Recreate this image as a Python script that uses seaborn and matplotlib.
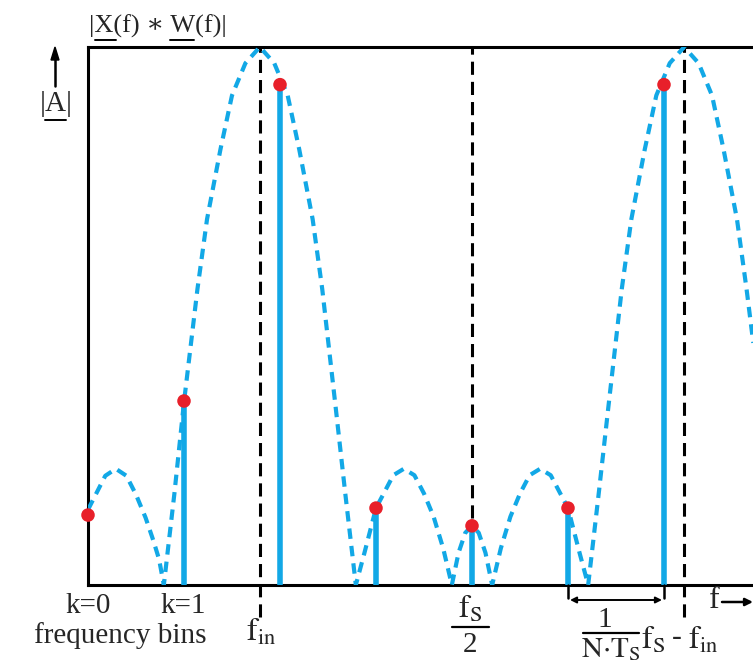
import numpy as np
import pandas as pd
import matplotlib.pyplot as plt
import seaborn as sns
from matplotlib.lines import Line2D

# spectrum curve |X(f) * W(f)| (f in bins, amplitude 0..1)
curve_f = [0.00, 0.10, 0.18, 0.29, 0.40, 0.50, 0.60, 0.68, 0.74, 0.79,
           0.90, 1.00, 1.14, 1.24, 1.38, 1.50, 1.64, 1.79, 1.94, 2.08, 2.20, 2.34, 2.44, 2.58, 2.68, 2.79,
           2.88, 3.00, 3.08, 3.18, 3.29, 3.40, 3.50, 3.60, 3.70, 3.79,
           3.86, 3.93, 4.00, 4.07, 4.14, 4.21,
           4.30, 4.40, 4.50, 4.60, 4.71, 4.82, 4.92, 5.00, 5.12, 5.21,
           5.32, 5.42, 5.56, 5.66, 5.80, 5.92, 6.06, 6.21, 6.36, 6.50, 6.62, 6.76, 6.86, 6.93]
curve_a = [0.140, 0.175, 0.203, 0.216, 0.203, 0.168, 0.125, 0.083, 0.048, 0.0,
           0.17, 0.34, 0.55, 0.68, 0.81, 0.91, 0.97, 1.0, 0.97, 0.91, 0.81, 0.68, 0.55, 0.33, 0.17, 0.0,
           0.06, 0.143, 0.17, 0.204, 0.216, 0.204, 0.17, 0.127, 0.068, 0.0,
           0.06, 0.097, 0.110, 0.097, 0.06, 0.0,
           0.068, 0.127, 0.17, 0.204, 0.216, 0.204, 0.17, 0.143, 0.06, 0.0,
           0.17, 0.33, 0.55, 0.68, 0.81, 0.91, 0.97, 1.0, 0.97, 0.91, 0.81, 0.68, 0.55, 0.45]

# DFT bins and their sampled amplitudes
bins = [0, 1, 2, 3, 4, 5, 6]
bin_a = [0.130, 0.342, 0.930, 0.143, 0.110, 0.143, 0.930]

# marker frequencies
f_in = 1.79
fs_half = 4.0
fs_minus_fin = 6.21

BLUE = "#12A8E6"
RED = "#E8202A"

sns.set_style("white")
plt.rcParams["font.family"] = ["Liberation Serif", "DejaVu Serif"]
plt.rcParams["mathtext.fontset"] = "stix"

W, H = 753, 668
fig = plt.figure(figsize=(W / 100, H / 100), dpi=100)
ax = fig.add_axes([88 / W, 1 - 585 / H, 1 - 88 / W, 538 / H])

curve = pd.DataFrame({"f": curve_f, "a": curve_a})
sns.lineplot(data=curve, x="f", y="a", ax=ax, sort=False, estimator=None,
             color=BLUE, lw=3, linestyle=(0, (2.5, 1.7)), zorder=3)

# stems (k=0 sits on the axis line)
ax.vlines(bins[1:], 0, bin_a[1:], color=BLUE, lw=4, zorder=4)
pts = pd.DataFrame({"k": bins, "a": bin_a})
sns.scatterplot(data=pts, x="k", y="a", ax=ax, color=RED, s=95,
                edgecolor="none", zorder=6, clip_on=False)

# reference lines
dash = (0, (4.3, 2.3))
for xv in [f_in, fs_minus_fin]:
    ax.plot([xv, xv], [-0.06, 1.0], color="black", lw=2.2, linestyle=dash,
            clip_on=False, zorder=2)
ax.plot([fs_half, fs_half], [0.125, 1.0], color="black", lw=2.2, linestyle=dash, zorder=2)

ax.set_xlim(0, 665 / 96)
ax.set_ylim(0, 1)
ax.set_xticks([])
ax.set_yticks([])
ax.set_xlabel("")
ax.set_ylabel("")
for s in ["left", "top", "bottom"]:
    ax.spines[s].set_color("black")
    ax.spines[s].set_linewidth(2.2)
ax.spines["right"].set_visible(False)


def fx(px):
    return px / W


def fy(py):
    return 1 - py / H


def hline(x0, x1, y, lw=1.4):
    fig.add_artist(Line2D([fx(x0), fx(x1)], [fy(y), fy(y)], color="black", lw=lw))


fs = 21
ms = 23
# title and amplitude label
fig.text(fx(89), fy(26), "|X(f) \u2217 W(f)|", fontsize=19, ha="left", va="center")
hline(95, 116, 40)
hline(170, 194, 40)
fig.text(fx(56), fy(104), "|A|", fontsize=fs, ha="center", va="center")
hline(45, 66, 120)
fig.add_artist(plt.Line2D([fx(55), fx(55)], [fy(86), fy(58)], color="black", lw=1.8))
fig.patches.append(plt.Polygon([[fx(51), fy(60)], [fx(59), fy(60)], [fx(55), fy(47)]],
                               closed=True, color="black", transform=fig.transFigure))

# bottom labels
fig.text(fx(88), fy(606), "k=0", fontsize=fs, ha="center", va="center")
fig.text(fx(183), fy(606), "k=1", fontsize=fs, ha="center", va="center")
fig.text(fx(120), fy(636), "frequency bins", fontsize=fs, ha="center", va="center")
fig.text(fx(261), fy(632), r"$\mathrm{f_{in}}$", fontsize=ms, ha="center", va="center")

fig.text(fx(470), fy(609), r"$\mathrm{f_S}$", fontsize=ms, ha="center", va="center")
hline(452, 489, 627, lw=1.6)
fig.text(fx(470), fy(645), "2", fontsize=fs, ha="center", va="center")

# 1/(N*Ts) spacing arrow
for xp in [568, 664]:
    fig.add_artist(Line2D([fx(xp), fx(xp)], [fy(585), fy(598)], color="black", lw=1.8))
ax.annotate("", xy=(fx(662), fy(600)), xytext=(fx(570), fy(600)), xycoords="figure fraction",
            arrowprops=dict(arrowstyle="<|-|>", color="black", lw=1.4,
                            mutation_scale=9, shrinkA=0, shrinkB=0))
fig.text(fx(605), fy(620), "1", fontsize=fs, ha="center", va="center")
hline(583, 639, 633, lw=1.6)
fig.text(fx(611), fy(650), r"$\mathrm{N{\cdot}T_S}$", fontsize=21, ha="center", va="center")
fig.text(fx(641), fy(640), r"$\mathrm{f_S}$", fontsize=ms, ha="left", va="center")
fig.text(fx(677), fy(638), "-", fontsize=fs, ha="center", va="center")
fig.text(fx(688), fy(640), r"$\mathrm{f_{in}}$", fontsize=ms, ha="left", va="center")

# frequency axis arrow
fig.text(fx(714), fy(600), "f", fontsize=ms, ha="center", va="center")
ax.annotate("", xy=(fx(753), fy(602)), xytext=(fx(722), fy(602)), xycoords="figure fraction",
            arrowprops=dict(arrowstyle="-|>", color="black", lw=1.8,
                            mutation_scale=11, shrinkA=0, shrinkB=0))

fig.savefig("out.png", dpi=100)
